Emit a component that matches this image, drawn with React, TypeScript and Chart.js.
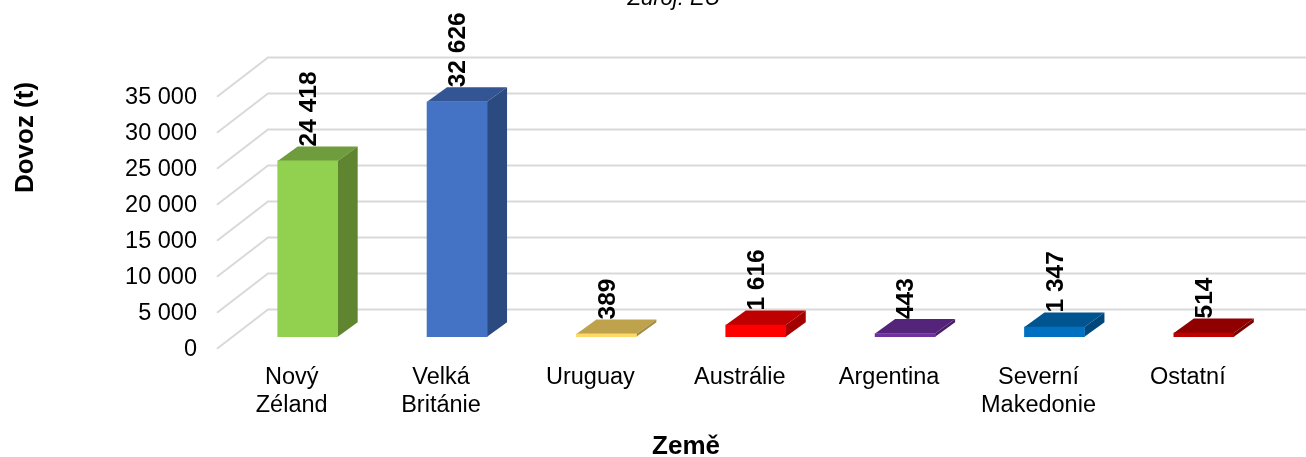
import React, { useEffect, useRef } from "react";
import { Chart, registerables } from "chart.js";

Chart.register(...registerables);

const categories = [["Nový", "Zéland"], ["Velká", "Británie"], "Uruguay", "Austrálie", "Argentina", ["Severní", "Makedonie"], "Ostatní"];
const imports = [24418, 32626, 389, 1616, 443, 1347, 514];
const frontColors = ["#92d050", "#4472c4", "#ffd966", "#ff0000", "#7030a0", "#0070c0", "#c00000"];
const topColors = ["#6f9c3c", "#335593", "#bfa34c", "#bf0000", "#54247a", "#005490", "#900000"];
const sideColors = ["#5f8530", "#2b4a80", "#a38b41", "#a30000", "#481f66", "#00487b", "#7b0000"];
const sourceText = "Zdroj: EU";
const yTitle = "Dovoz (t)";
const xTitle = "Země";

const FONT = '"Liberation Sans", Arial, sans-serif';
const fmt = (v: number) => String(v).replace(/\B(?=(\d{3})+$)/g, " ");

const FLOOR_DX = 51, FLOOR_DY = -39.3;
const BAR_SHIFT_X = 16, BAR_SHIFT_Y = -12;
const DEPTH_X = 20, DEPTH_Y = -14.5;

const poly = (ctx: CanvasRenderingContext2D, pts: number[][], fill: string) => {
  ctx.beginPath();
  pts.forEach(([x, y], i) => (i ? ctx.lineTo(x, y) : ctx.moveTo(x, y)));
  ctx.closePath();
  ctx.fillStyle = fill;
  ctx.fill();
};

const perspective = {
  id: "perspective",
  beforeDatasetsDraw(chart: any) {
    const { ctx, scales, chartArea, width } = chart;
    const y = scales.y;
    ctx.save();
    ctx.strokeStyle = "#d9d9d9";
    ctx.lineWidth = 2;
    y.ticks.forEach((t: any) => {
      const py = y.getPixelForValue(t.value);
      ctx.beginPath();
      ctx.moveTo(chartArea.left, py);
      ctx.lineTo(chartArea.left + FLOOR_DX, py + FLOOR_DY);
      ctx.lineTo(width, py + FLOOR_DY);
      ctx.stroke();
    });
    ctx.restore();

    const els = chart.getDatasetMeta(0).data;
    ctx.save();
    ctx.fillStyle = "#000";
    ctx.font = `bold 24.5px ${FONT}`;
    ctx.textAlign = "left";
    ctx.textBaseline = "middle";
    els.forEach((el: any, i: number) => {
      ctx.save();
      ctx.translate(el.x + BAR_SHIFT_X + 1.5, el.y + BAR_SHIFT_Y + DEPTH_Y);
      ctx.rotate(-Math.PI / 2);
      ctx.fillText(fmt(imports[i]), 0, 0);
      ctx.restore();
    });
    ctx.restore();

    ctx.save();
    ctx.translate(BAR_SHIFT_X, BAR_SHIFT_Y);
    els.forEach((el: any, i: number) => {
      const l = el.x - el.width / 2, r = el.x + el.width / 2;
      poly(ctx, [[l, el.y], [r, el.y], [r + DEPTH_X, el.y + DEPTH_Y], [l + DEPTH_X, el.y + DEPTH_Y]], topColors[i]);
      poly(ctx, [[r, el.y], [r + DEPTH_X, el.y + DEPTH_Y], [r + DEPTH_X, el.base + DEPTH_Y], [r, el.base]], sideColors[i]);
    });
  },
  afterDatasetsDraw(chart: any) {
    chart.ctx.restore();
    const ctx = chart.ctx;
    ctx.save();
    ctx.fillStyle = "#000";
    ctx.textAlign = "center";
    ctx.textBaseline = "alphabetic";
    ctx.font = `italic 22px ${FONT}`;
    ctx.fillText(sourceText, 674, 5);
    ctx.font = `bold 26px ${FONT}`;
    ctx.fillText(xTitle, 686, 454);
    ctx.translate(33, 137.5);
    ctx.rotate(-Math.PI / 2);
    ctx.fillText(yTitle, 0, 0);
    ctx.restore();
  },
};

export default function App() {
  const ref = useRef<HTMLCanvasElement>(null);
  useEffect(() => {
    const chart = new Chart(ref.current as HTMLCanvasElement, {
      type: "bar",
      data: {
        labels: categories as any,
        datasets: [{
          label: "Dovoz (t)",
          data: imports,
          backgroundColor: frontColors,
          borderWidth: 0,
          barThickness: 60,
          clip: false as any,
        }],
      },
      plugins: [perspective as any],
      options: {
        responsive: false,
        animation: false,
        devicePixelRatio: 1,
        layout: { padding: { top: 96.7, right: 43.5, left: 0, bottom: 0 } },
        plugins: { legend: { display: false }, tooltip: { enabled: false } },
        scales: {
          x: {
            grid: { display: false },
            border: { display: false },
            afterFit: (s: any) => { s.height = 108.3; },
            ticks: {
              autoSkip: false, maxRotation: 0, minRotation: 0, padding: 7, color: "#000",
              font: { family: FONT, size: 23.5, lineHeight: 1.2 },
            },
          },
          y: {
            min: 0,
            max: 35000,
            grid: { display: false, drawTicks: false },
            border: { display: false },
            afterFit: (s: any) => { s.width = 217; },
            ticks: {
              stepSize: 5000, padding: 20, color: "#000", labelOffset: 1,
              font: { family: FONT, size: 23.5 },
              callback: (v: any) => fmt(Number(v)),
            },
          },
        },
      } as any,
    });
    return () => chart.destroy();
  }, []);
  return <canvas ref={ref} width={1306} height={457} style={{ position: "fixed", left: 0, top: 0, display: "block" }} />;
}
